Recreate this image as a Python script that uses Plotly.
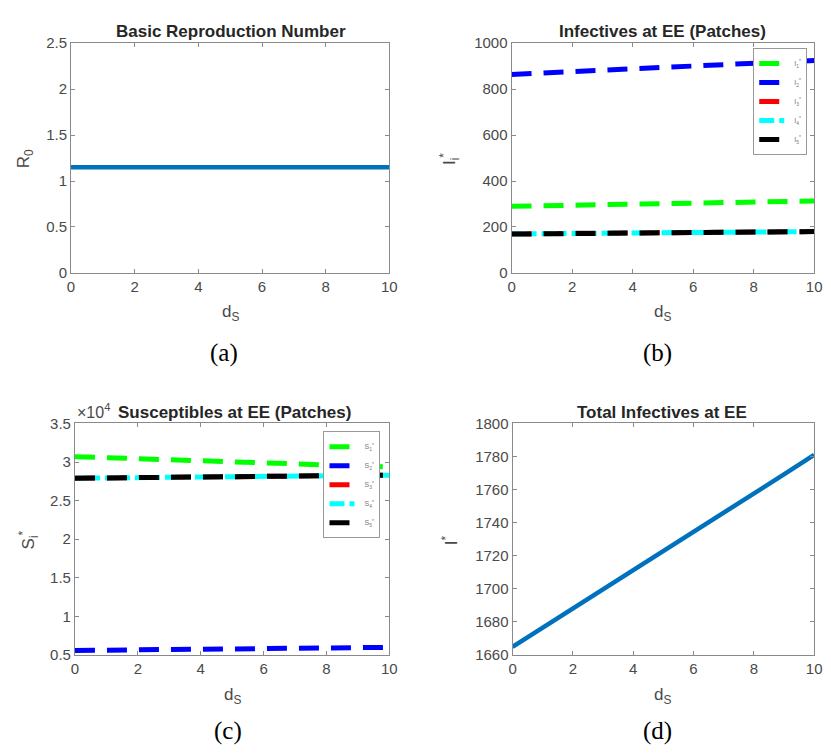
import plotly.graph_objects as go

# ---------------- data ----------------
d_S = [0, 1, 2, 3, 4, 5, 6, 7, 8, 9, 10]

R0 = [1.15, 1.15, 1.15, 1.15, 1.15, 1.15, 1.15, 1.15, 1.15, 1.15, 1.15]

I1 = [290, 292, 294, 297, 299, 301, 304, 306, 308, 311, 313]
I2 = [864, 870, 876, 882, 888, 895, 901, 907, 913, 919, 925]
I3 = [170, 171, 172, 173, 174, 175, 176, 177, 178, 179, 180]
I4 = [170, 171, 172, 173, 174, 175, 176, 177, 178, 179, 180]
I5 = [169, 170, 171, 172, 173, 174, 176, 177, 178, 179, 180]

# susceptibles in units of 1e4
S1 = [3.07, 3.055, 3.04, 3.026, 3.012, 2.998, 2.985, 2.972, 2.960, 2.948, 2.936]
S2 = [0.560, 0.564, 0.568, 0.572, 0.576, 0.580, 0.584, 0.588, 0.592, 0.596, 0.600]
S3 = [2.790, 2.794, 2.798, 2.802, 2.806, 2.810, 2.814, 2.818, 2.822, 2.826, 2.830]
S4 = [2.790, 2.794, 2.798, 2.802, 2.806, 2.810, 2.814, 2.818, 2.822, 2.826, 2.830]
S5 = [2.790, 2.794, 2.798, 2.802, 2.806, 2.810, 2.814, 2.818, 2.822, 2.826, 2.830]

I_total = [1665, 1676.5, 1688, 1699.6, 1711.2, 1722.8, 1734.4, 1746, 1757.6, 1769.2, 1781]

x_ticks = [0, 2, 4, 6, 8, 10]
a_yticks = [0, 0.5, 1, 1.5, 2, 2.5]
b_yticks = [0, 200, 400, 600, 800, 1000]
c_yticks = [0.5, 1, 1.5, 2, 2.5, 3, 3.5]
d_yticks = [1660, 1680, 1700, 1720, 1740, 1760, 1780, 1800]

patch_colors = ["#00ff00", "#0000ff", "#ff0000", "#00ffff", "#000000"]
patch_dash = ["20px,12px", "20px,12px", "20px,12px", "dashdot", "20px,12px"]

W, H = 831, 753
MB = "#0072BD"
AX = "#8a8a8a"
TXT = "#4a4a4a"
FONT = "Liberation Sans, Arial, sans-serif"


def px(x):
    return x / W


def py(y):
    return 1 - y / H


fig = go.Figure()

# (a)
fig.add_trace(go.Scatter(x=d_S, y=R0, mode="lines", line=dict(color=MB, width=4.5),
                         xaxis="x", yaxis="y", showlegend=False))
# (b)
for i, (vals, c, dsh) in enumerate(zip([I1, I2, I3, I4, I5], patch_colors, patch_dash)):
    fig.add_trace(go.Scatter(x=d_S, y=vals, mode="lines",
                             line=dict(color=c, width=5, dash=dsh),
                             name=f"I<sub>{i+1}</sub><sup>*</sup>",
                             xaxis="x2", yaxis="y2", legend="legend"))
# (c)
for i, (vals, c, dsh) in enumerate(zip([S1, S2, S3, S4, S5], patch_colors, patch_dash)):
    fig.add_trace(go.Scatter(x=d_S, y=vals, mode="lines",
                             line=dict(color=c, width=5, dash=dsh),
                             name=f"S<sub>{i+1}</sub><sup>*</sup>",
                             xaxis="x3", yaxis="y3", legend="legend2"))
# (d)
fig.add_trace(go.Scatter(x=d_S, y=I_total, mode="lines", line=dict(color=MB, width=4.5),
                         xaxis="x4", yaxis="y4", showlegend=False))

TICKFONT = dict(family=FONT, size=15, color=TXT)


def xax(dom, anchor):
    return dict(domain=dom, anchor=anchor, range=[0, 10], tickvals=x_ticks,
                showline=True, linecolor=AX, linewidth=1, mirror="ticks",
                ticks="inside", ticklen=4, tickcolor=AX, showgrid=False, zeroline=False,
                tickfont=TICKFONT)


def yax(dom, anchor, rng, tv):
    return dict(domain=dom, anchor=anchor, range=rng, tickvals=tv,
                showline=True, linecolor=AX, linewidth=1, mirror="ticks",
                ticks="inside", ticklen=4, tickcolor=AX, showgrid=False, zeroline=False,
                tickfont=TICKFONT)


row1 = [py(270), py(35)]
row2 = [py(661), py(424)]

fig.update_layout(
    width=W, height=H, margin=dict(l=0, r=0, t=0, b=0),
    paper_bgcolor="white", plot_bgcolor="white",
    xaxis=xax([px(68), px(391)], "y"),
    yaxis=yax(row1, "x", [0, 2.5], a_yticks),
    xaxis2=xax([px(515), px(822)], "y2"),
    yaxis2=yax(row1, "x2", [0, 1000], b_yticks),
    xaxis3=xax([px(72), px(391)], "y3"),
    yaxis3=yax(row2, "x3", [0.5, 3.5], c_yticks),
    xaxis4=xax([px(516), px(822)], "y4"),
    yaxis4=yax(row2, "x4", [1660, 1800], d_yticks),
    legend=dict(x=px(815), y=py(40), xanchor="right", yanchor="top",
                bgcolor="white", bordercolor="#999", borderwidth=1,
                font=dict(family=FONT, size=7, color="#777"), tracegroupgap=0),
    legend2=dict(x=px(382), y=py(432), xanchor="right", yanchor="top",
                 bgcolor="white", bordercolor="#999", borderwidth=1,
                 font=dict(family=FONT, size=7, color="#777"), tracegroupgap=0),
    showlegend=True,
)

ann = []


def add_text(x, y, text, size, color, family=FONT, angle=0, xanchor="center"):
    ann.append(dict(x=px(x), y=py(y), xref="paper", yref="paper", text=text,
                    showarrow=False, textangle=angle, xanchor=xanchor, yanchor="middle",
                    font=dict(family=family, size=size, color=color)))


# titles
add_text(230, 23, "<b>Basic Reproduction Number</b>", 17, "#262626")
add_text(668, 23, "<b>Infectives at EE (Patches)</b>", 17, "#262626")
add_text(234, 413, "<b>Susceptibles at EE (Patches)</b>", 17, "#262626")
add_text(668, 413, "<b>Total Infectives at EE</b>", 17, "#262626")
# exponent
add_text(72, 411, "×10<sup>4</sup>", 16, TXT, xanchor="left")
# x labels
add_text(230, 311, "d<sub>S</sub>", 17, TXT)
add_text(668, 311, "d<sub>S</sub>", 17, TXT)
add_text(232, 703, "d<sub>S</sub>", 17, TXT)
add_text(668, 703, "d<sub>S</sub>", 17, TXT)
# y labels
add_text(21, 153, "R<sub>0</sub>", 17, TXT, angle=-90)
add_text(452, 153, "I<sub>i</sub><sup>*</sup>", 17, TXT, angle=-90)
add_text(25, 543, "S<sub>i</sub><sup>*</sup>", 17, TXT, angle=-90)
add_text(452, 543, "I<sup>*</sup>", 17, TXT, angle=-90)
# captions
serif = "Liberation Serif, Times New Roman, serif"
add_text(223, 352, "(a)", 25, "#000000", family=serif)
add_text(663, 352, "(b)", 25, "#000000", family=serif)
add_text(227, 739, "(c)", 25, "#000000", family=serif)
add_text(663, 739, "(d)", 25, "#000000", family=serif)

fig.update_layout(annotations=ann)

fig.write_html("out.html")
